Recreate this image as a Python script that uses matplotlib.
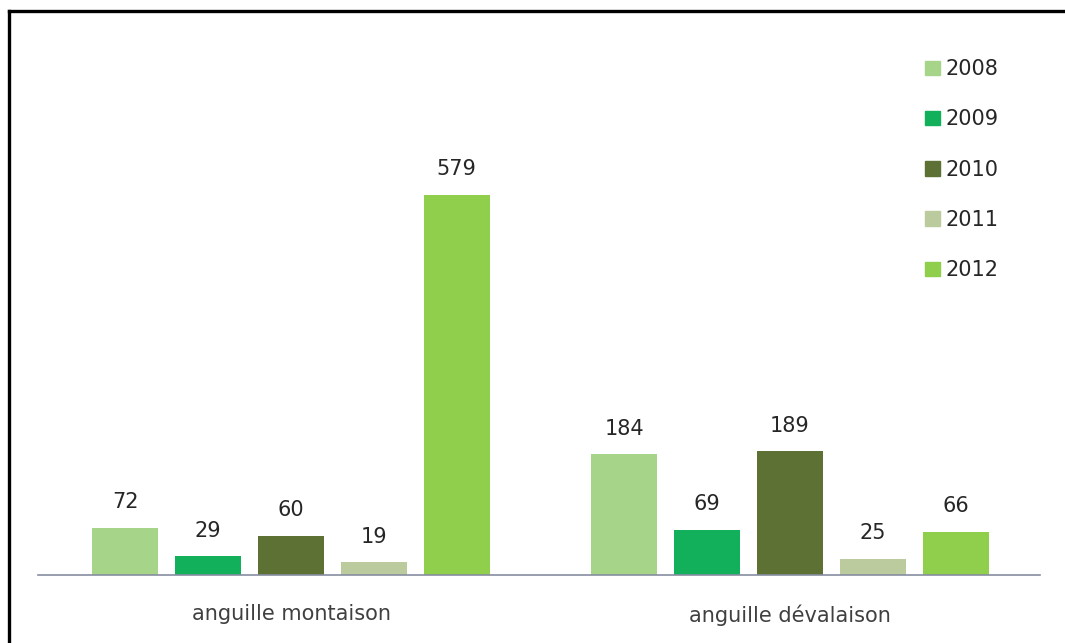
import numpy as np
import matplotlib.pyplot as plt
from matplotlib.lines import Line2D
from matplotlib.patches import Patch

categories = ['anguille montaison', 'anguille dévalaison']
years = ['2008', '2009', '2010', '2011', '2012']
values = {
    '2008': [72, 184],
    '2009': [29, 69],
    '2010': [60, 189],
    '2011': [19, 25],
    '2012': [579, 66],
}
colors = ['#a6d58a', '#12b05a', '#5e7134', '#bccb9e', '#8fcf4c']

plt.rcParams['font.family'] = ['DejaVu Sans']

fig = plt.figure(figsize=(10.65, 6.43), dpi=100)
ax = fig.add_axes([0.0357, 0.1058, 0.9408, 0.715])

x = np.arange(len(categories))
width = 0.132
step = 0.166
for i, year in enumerate(years):
    pos = x + (i - 2) * step
    bars = ax.bar(pos, values[year], width, color=colors[i], label=year)
    for b, v in zip(bars, values[year]):
        ax.annotate(str(v), (b.get_x() + b.get_width() / 2, v),
                    xytext=(0, 11), textcoords='offset points',
                    ha='center', va='bottom', fontsize=15, color='#262626')

ax.set_xlim(-0.507, 1.501)
ax.set_ylim(0, 700)
ax.set_xticks(x)
ax.set_xticklabels(categories, fontsize=15, color='#404040')
ax.tick_params(axis='x', length=0, pad=21)
ax.set_yticks([])
for s in ['top', 'right', 'left']:
    ax.spines[s].set_visible(False)
ax.spines['bottom'].set_color('#868ea0')
ax.spines['bottom'].set_linewidth(1.2)

handles = [Patch(color=c) for c in colors]
fig.legend(handles, years, loc='upper left', bbox_to_anchor=(0.851, 0.937),
           frameon=False, fontsize=15, handlelength=0.7, handleheight=0.7,
           handletextpad=0.3, labelspacing=1.45, labelcolor='#262626')

# outer frame (top and left edges only visible)
fig.add_artist(Line2D([0.0085, 1.0], [0.9826, 0.9826], color='black', lw=2.4,
                      transform=fig.transFigure))
fig.add_artist(Line2D([0.0085, 0.0085], [0.0, 0.9826], color='black', lw=2.4,
                      transform=fig.transFigure))

fig.savefig('out.png', dpi=100)
